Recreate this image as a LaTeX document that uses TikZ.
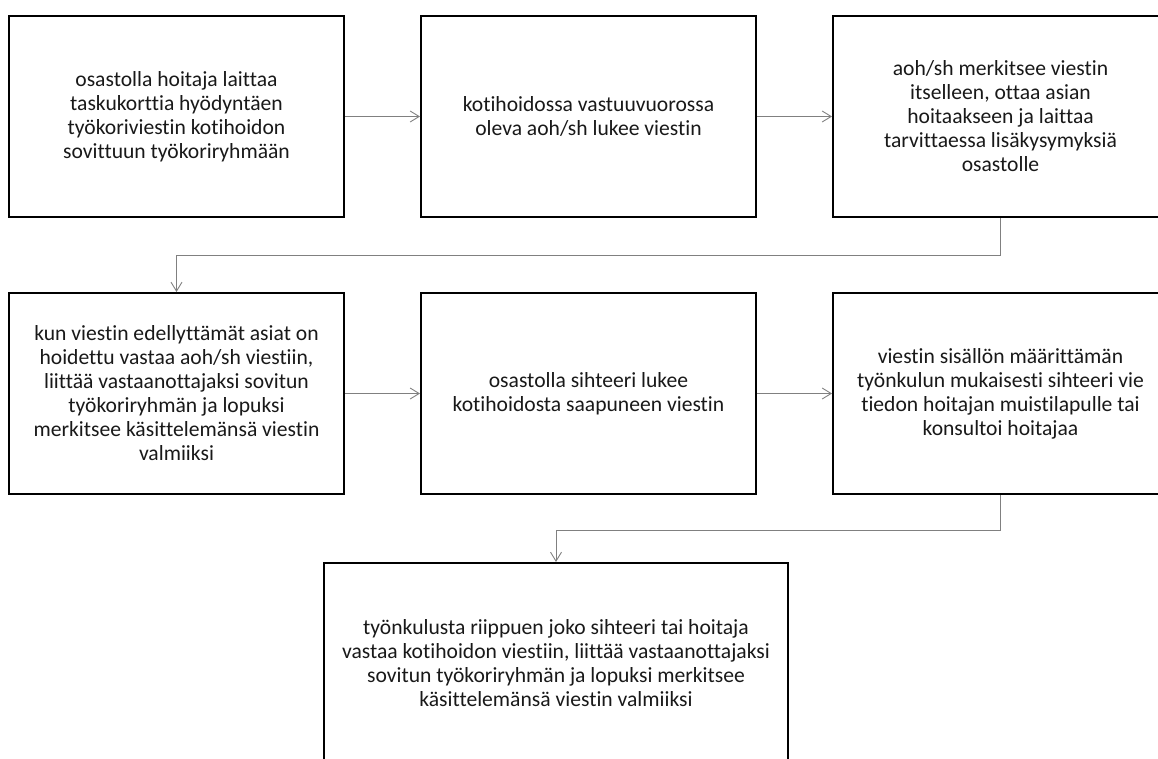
\documentclass[tikz,border=0pt]{standalone}
\usepackage{fontspec}
\setmainfont[Ligatures=NoCommon]{Carlito}
\usetikzlibrary{arrows.meta}
\begin{document}
\begin{tikzpicture}[x=1pt,y=-1pt,
  stepbox/.style={draw=black, line width=2pt, fill=white, minimum width=335pt,
    minimum height=201pt, align=center, inner sep=0pt, text=black!90,
    font=\fontsize{21.6pt}{24pt}\selectfont},
  conn/.style={draw=black!50, line width=0.9pt,
    -{Straight Barb[length=9pt,width=11pt,line width=0.9pt]}}]
\useasboundingbox (0,0) rectangle (1158,758);
\clip (0,0) rectangle (1158,758);

% first row
\node[stepbox] (b1) at (176.5,116.5) {osastolla hoitaja laittaa\\taskukorttia hyödyntäen\\työkoriviestin kotihoidon\\sovittuun työkoriryhmään};
\node[stepbox] (b2) at (588.5,116.5) {kotihoidossa vastuuvuorossa\\oleva aoh/sh lukee viestin};
\node[stepbox] (b3) at (1000.5,116.5) {aoh/sh merkitsee viestin\\itselleen, ottaa asian\\hoitaakseen ja laittaa\\tarvittaessa lisäkysymyksiä\\osastolle};

% second row
\node[stepbox] (b4) at (176.5,393.5) {kun viestin edellyttämät asiat on\\hoidettu vastaa aoh/sh viestiin,\\liittää vastaanottajaksi sovitun\\työkoriryhmän ja lopuksi\\merkitsee käsittelemänsä viestin\\valmiiksi};
\node[stepbox] (b5) at (588.5,393.5) {osastolla sihteeri lukee\\kotihoidosta saapuneen viestin};
\node[stepbox] (b6) at (1000.5,393.5) {viestin sisällön määrittämän\\työnkulun mukaisesti sihteeri vie\\tiedon hoitajan muistilapulle tai\\konsultoi hoitajaa};

% final step
\node[stepbox, minimum width=464pt] (b7) at (556,663.5) {työnkulusta riippuen joko sihteeri tai hoitaja\\vastaa kotihoidon viestiin, liittää vastaanottajaksi\\sovitun työkoriryhmän ja lopuksi merkitsee\\käsittelemänsä viestin valmiiksi};

% routing levels between rows
\coordinate (j1) at (0,255);
\coordinate (j2) at (0,530);

\draw[conn] (b1.east) -- (b2.west);
\draw[conn] (b2.east) -- (b3.west);
\draw[conn] (b3.south) -- (b3.south |- j1) -- (b4.north |- j1) -- (b4.north);
\draw[conn] (b4.east) -- (b5.west);
\draw[conn] (b5.east) -- (b6.west);
\draw[conn] (b6.south) -- (b6.south |- j2) -- (b7.north |- j2) -- (b7.north);
\end{tikzpicture}
\end{document}
